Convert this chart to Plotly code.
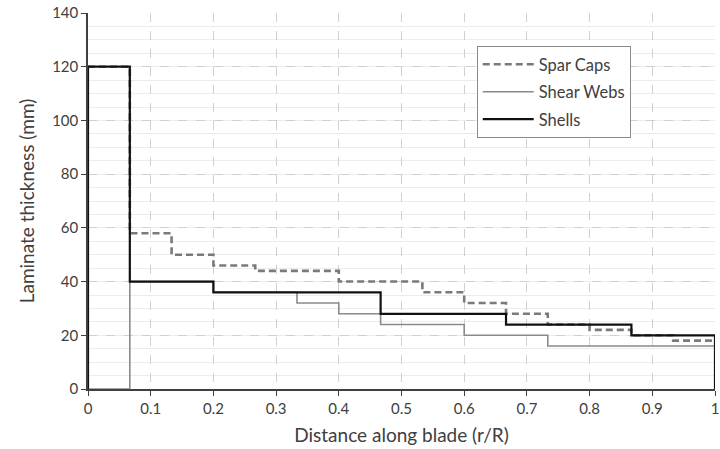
import plotly.graph_objects as go

# Data (r/R breakpoints and laminate thickness in mm), step functions
spar_x = [0, 0.0667, 0.1333, 0.2, 0.2667, 0.4, 0.5333, 0.6, 0.6667, 0.7333, 0.8, 0.8667, 0.9333, 1.0]
spar_y = [120, 58, 50, 46, 44, 40, 36, 32, 28, 24, 22, 20, 18, 18]

webs_x = [0, 0.0667, 0.2, 0.3333, 0.4, 0.4667, 0.6, 0.7333, 1.0]
webs_y = [0, 40, 36, 32, 28, 24, 20, 16, 16]

shell_x = [0, 0, 0.0667, 0.2, 0.4667, 0.6667, 0.8667, 1.0, 1.0]
shell_y = [0, 120, 40, 36, 28, 24, 20, 20, 0]

x_ticks = [0, 0.1, 0.2, 0.3, 0.4, 0.5, 0.6, 0.7, 0.8, 0.9, 1.0]
x_tick_labels = ["0", "0.1", "0.2", "0.3", "0.4", "0.5", "0.6", "0.7", "0.8", "0.9", "1"]
y_ticks = [0, 20, 40, 60, 80, 100, 120, 140]

FONT = "Lato"
TXT = "#404040"

fig = go.Figure()
fig.add_trace(go.Scatter(x=spar_x, y=spar_y, mode="lines", name="Spar Caps",
                         line=dict(shape="hv", color="#7a7a7a", width=2.6, dash="7px,4px"),
                         legendgroup="a"))
fig.add_trace(go.Scatter(x=webs_x, y=webs_y, mode="lines", name="Shear Webs",
                         line=dict(shape="hv", color="#8a8a8a", width=1.6),
                         legendgroup="b"))
fig.add_trace(go.Scatter(x=shell_x, y=shell_y, mode="lines", name="Shells",
                         line=dict(shape="hv", color="#111111", width=2.2),
                         legendgroup="c"))

fig.update_layout(
    width=720, height=449,
    margin=dict(l=88, r=1, t=13, b=60),
    paper_bgcolor="white", plot_bgcolor="white",
    font=dict(family=FONT, color=TXT),
    showlegend=True,
    legend=dict(x=0.62, y=0.912, xanchor="left", yanchor="top",
                bgcolor="white", bordercolor="#8a8a8a", borderwidth=1,
                font=dict(size=16.5, color=TXT, family=FONT),
                itemwidth=51, entrywidth=125,
                traceorder="grouped", tracegroupgap=3),
    xaxis=dict(range=[0, 1], tickvals=x_ticks, ticktext=x_tick_labels,
               showgrid=True, gridcolor="#d0d0d0", griddash="dash", gridwidth=1,
               showline=True, linecolor=TXT, linewidth=1.5,
               ticks="outside", ticklen=5, tickcolor=TXT,
               tickfont=dict(size=15, color=TXT),
               ticklabeloverflow="allow",
               zeroline=False,
               title=dict(text="Distance along blade (r/R)", font=dict(size=19, color=TXT), standoff=13)),
    yaxis=dict(range=[0, 140], tickvals=y_ticks,
               showgrid=True, gridcolor="#d0d0d0", griddash="dash", gridwidth=1,
               minor=dict(dtick=5, showgrid=True, gridcolor="#ececec", gridwidth=1, griddash="solid"),
               showline=True, linecolor=TXT, linewidth=1.5,
               ticks="outside", ticklen=5, tickcolor=TXT,
               tickfont=dict(size=15, color=TXT),
               zeroline=False,
               title=dict(text="Laminate thickness (mm)", font=dict(size=19, color=TXT), standoff=12)),
)

fig.write_html("out.html")
